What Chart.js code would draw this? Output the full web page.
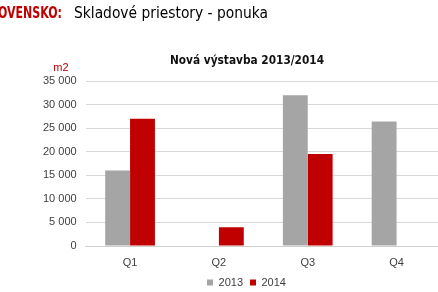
<!DOCTYPE html>
<html>
<head>
<meta charset="utf-8">
<script src="https://cdn.jsdelivr.net/npm/chart.js@4/dist/chart.umd.min.js"></script>
<style>
  html, body { margin: 0; padding: 0; background: #fff; overflow: hidden; }
  #wrap { position: absolute; left: 0; top: 0; width: 446px; height: 292px; }
</style>
</head>
<body>
<div id="wrap"><canvas id="chart" width="446" height="292"></canvas></div>
<script>
const quarters = ['Q1', 'Q2', 'Q3', 'Q4'];
const values2013 = [16000, null, 32000, 26400];
const values2014 = [27000, 4000, 19500, null];
const yTicks = [0, 5000, 10000, 15000, 20000, 25000, 30000, 35000];

const RED = '#c00000';
const GRAY = '#a5a5a5';
const TEXT = '#404040';

const fmt = v => String(v).replace(/\B(?=(\d{3})+(?!\d))/g, ' ');

// heading, chart title and unit label
const extraText = {
  id: 'extraText',
  afterLayout(chart) {
    // legend sits a bit right of the axis-box centre in the original
    chart.legend.left += 9;
    chart.legend.right += 9;
  },
  afterDraw(chart) {
    const c = chart.ctx;
    c.save();
    c.textBaseline = 'alphabetic';
    // page heading, left part runs off the window
    c.font = 'bold 16px "DejaVu Sans"';
    c.fillStyle = RED;
    c.textAlign = 'right';
    const f = 64 / c.measureText('OVENSKO:').width;
    c.save();
    c.translate(62, 18);
    c.scale(f, 1);
    c.fillText('SLOVENSKO:', 0, 0);
    c.restore();
    c.font = '16px "DejaVu Sans"';
    c.fillStyle = '#000';
    c.textAlign = 'left';
    c.fillText('Skladové priestory - ponuka', 74, 18, 194);

    c.font = 'bold 12px "DejaVu Sans"';
    c.fillStyle = '#111';
    c.textAlign = 'center';
    c.fillText('Nová výstavba 2013/2014', 247, 64, 154);

    c.font = '11px "Liberation Sans"';
    c.fillStyle = RED;
    c.fillText('m2', 61, 71);
    c.restore();
  }
};

new Chart(document.getElementById('chart'), {
  type: 'bar',
  data: {
    labels: quarters,
    datasets: [
      { label: '2013', data: values2013, backgroundColor: GRAY },
      { label: '2014', data: values2014, backgroundColor: RED }
    ]
  },
  options: {
    responsive: false,
    animation: false,
    devicePixelRatio: 1,
    datasets: { bar: { categoryPercentage: 0.56, barPercentage: 1.0 } },
    layout: { padding: { left: 34, right: 5, top: 81, bottom: 0 } },
    plugins: {
      title: { display: false },
      tooltip: { enabled: false },
      legend: {
        position: 'bottom',
        maxHeight: 22,
        labels: {
          boxWidth: 6, boxHeight: 6, padding: 7,
          color: TEXT,
          font: { family: 'Liberation Sans', size: 11 }
        }
      }
    },
    scales: {
      x: {
        afterFit: axis => { axis.height = 24; },
        grid: { display: false, drawTicks: false },
        border: { color: '#d0d0d0' },
        ticks: { color: TEXT, padding: 10, font: { family: 'Liberation Sans', size: 11 } }
      },
      y: {
        min: 0, max: 35000,
        afterBuildTicks: axis => { axis.ticks = yTicks.map(v => ({ value: v })); },
        grid: { color: '#d9d9d9', drawTicks: false },
        border: { display: false },
        ticks: {
          color: TEXT, padding: 9,
          font: { family: 'Liberation Sans', size: 11 },
          callback: v => fmt(v)
        }
      }
    }
  },
  plugins: [extraText]
});
</script>
</body>
</html>
